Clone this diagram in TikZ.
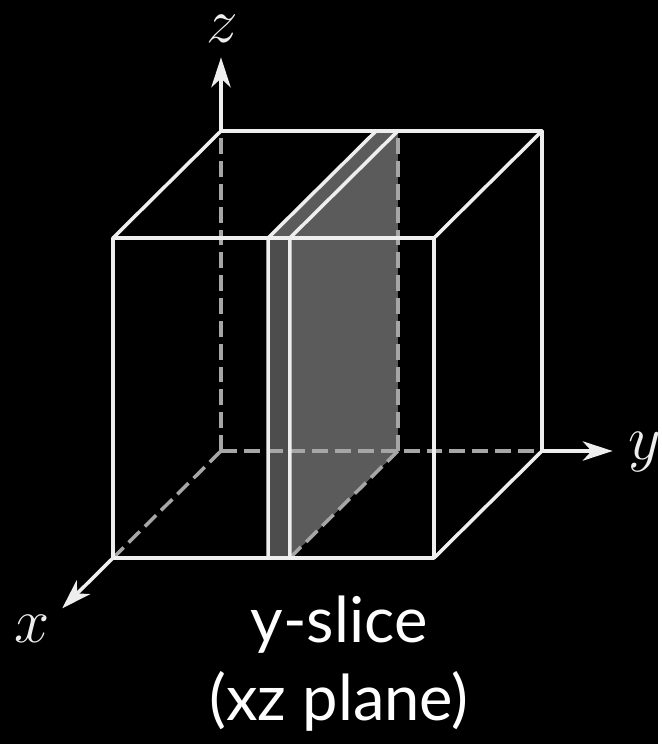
\documentclass[tikz,border=0pt]{standalone}
\usepackage{fix-cm}
\usepackage{fontspec}
\setsansfont{Lato}
\usetikzlibrary{arrows.meta}
\definecolor{SliceEdge}{HTML}{EEEEEE}
\definecolor{SliceHidden}{HTML}{A6A6A6}
\definecolor{SliceFace}{HTML}{5B5B5B}
\definecolor{SliceFront}{HTML}{4D4D4D}

\begin{document}
\begin{tikzpicture}[line cap=round,line join=round,
  x={(-2.16cm,-2.14cm)},y={(6.42cm,0cm)},z={(0cm,6.4cm)},
  edge/.style={SliceEdge,line width=2pt},
  hidden/.style={SliceHidden,line width=2pt,line cap=butt,dash pattern=on 9pt off 4pt},
  axis/.style={SliceEdge,line width=2pt,-{Stealth[length=17pt,width=11pt,inset=5pt]}},
  axislabel/.style={text=SliceEdge,font=\fontsize{36}{43}\selectfont,anchor=base,inner sep=0pt},
  caption/.style={font=\sffamily\fontsize{36}{44}\selectfont,text=white,anchor=base,inner sep=0pt}]
  \fill[black] (-4.42cm,-5.86cm) rectangle (8.74cm,9.02cm);
  % cube corners
  \coordinate (bbl) at (0,0,0);
  \coordinate (bbr) at (0,1,0);
  \coordinate (btl) at (0,0,1);
  \coordinate (btr) at (0,1,1);
  \coordinate (fbl) at (1,0,0);
  \coordinate (fbr) at (1,1,0);
  \coordinate (ftl) at (1,0,1);
  \coordinate (ftr) at (1,1,1);
  % slab faces
  \fill[SliceFace] (1,0.551,0) -- (1,0.551,1) -- (0,0.551,1) -- (0,0.551,0) -- cycle;
  \fill[SliceFace] (1,0.483,1) -- (1,0.551,1) -- (0,0.551,1) -- (0,0.483,1) -- cycle;
  \fill[SliceFront] (1,0.483,0) -- (1,0.551,0) -- (1,0.551,1) -- (1,0.483,1) -- cycle;
  % hidden edges
  \draw[hidden] (bbl) -- (bbr);
  \draw[hidden] (bbl) -- (btl);
  \draw[hidden] (bbl) -- (fbl);
  \draw[hidden] (0,0.551,0) -- (0,0.551,1);
  \draw[hidden] (1,0.551,0) -- (0,0.551,0);
  % visible edges
  \draw[edge] (fbl) -- (fbr) -- (ftr) -- (ftl) -- cycle;
  \draw[edge] (ftl) -- (btl) -- (btr) -- (ftr);
  \draw[edge] (btr) -- (bbr) -- (fbr);
  \draw[edge] (1,0.483,0) -- (1,0.483,1) -- (0,0.483,1);
  \draw[edge] (1,0.551,0) -- (1,0.551,1) -- (0,0.551,1);
  % axes
  \coordinate (xtip) at (1.47,0,0);
  \coordinate (ytip) at (0,1.22,0);
  \coordinate (ztip) at (0,0,1.23);
  \draw[axis] (fbl) -- (xtip);
  \draw[axis] (bbr) -- (ytip);
  \draw[axis] (btl) -- (ztip);
  \node[axislabel] (xlabel) at (-3.77cm,-3.82cm) {$x$};
  \node[axislabel] (ylabel) at (8.48cm,-0.16cm) {$y$};
  \node[axislabel] (zlabel) at (0.02cm,8.18cm) {$z$};
  \node[caption] (slicename) at (2.36cm,-3.82cm) {y-slice};
  \node[caption] (planename) at (2.36cm,-5.38cm) {(xz plane)};
\end{tikzpicture}
\end{document}
